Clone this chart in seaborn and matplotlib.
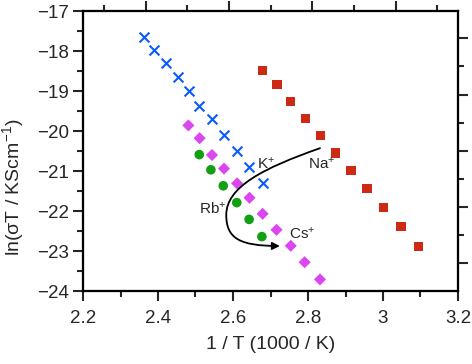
"""
Arrhenius plot: ln(sigma T) vs 1/T for alkali cations
"""

import numpy as np
import pandas as pd
import matplotlib
matplotlib.use('Agg')
import matplotlib.pyplot as plt
import seaborn as sns
from matplotlib.path import Path
from matplotlib.patches import FancyArrowPatch
from matplotlib.ticker import MultipleLocator

# ---------------------------------------------------------------------------
# data
# ---------------------------------------------------------------------------
k_x = [2.363, 2.390, 2.421, 2.453, 2.482, 2.510, 2.544, 2.576, 2.611, 2.644, 2.679]
k_y = [-17.64, -17.98, -18.29, -18.64, -18.99, -19.38, -19.71, -20.10, -20.49, -20.89, -21.29]

cs_x = [2.481, 2.511, 2.544, 2.576, 2.611, 2.644, 2.679, 2.716, 2.754, 2.791, 2.832]
cs_y = [-19.86, -20.18, -20.60, -20.94, -21.31, -21.67, -22.07, -22.47, -22.87, -23.28, -23.71]

rb_x = [2.510, 2.541, 2.574, 2.610, 2.643, 2.677]
rb_y = [-20.59, -20.97, -21.37, -21.79, -22.21, -22.64]

na_x = [2.679, 2.717, 2.754, 2.793, 2.833, 2.873, 2.915, 2.957, 3.002, 3.048, 3.095]
na_y = [-18.48, -18.84, -19.26, -19.68, -20.11, -20.55, -20.99, -21.44, -21.91, -22.38, -22.88]

x_ticks = [2.2, 2.4, 2.6, 2.8, 3.0, 3.2]
x_tick_labels = ['2.2', '2.4', '2.6', '2.8', '3', '3.2']
y_ticks = [-24, -23, -22, -21, -20, -19, -18, -17]

# ion labels: (text, x, y)
ion_labels = [('K$^{+}$', 2.664, -20.93),
              ('Na$^{+}$', 2.799, -20.93),
              ('Rb$^{+}$', 2.510, -22.06),
              ('Cs$^{+}$', 2.749, -22.68)]

# guide arrow (two cubic bezier segments)
arrow_pts = [(2.832, -20.43), (2.680, -20.93), (2.582, -21.40), (2.582, -22.10),
             (2.582, -22.70), (2.620, -22.87), (2.725, -22.875)]

# ---------------------------------------------------------------------------
# style
# ---------------------------------------------------------------------------
sns.set_style('ticks')
plt.rcParams['font.family'] = ['Liberation Sans', 'DejaVu Sans']
plt.rcParams['mathtext.fontset'] = 'custom'
plt.rcParams['mathtext.rm'] = 'Liberation Sans'
plt.rcParams['mathtext.it'] = 'Liberation Sans:italic'
plt.rcParams['axes.linewidth'] = 1.5
plt.rcParams['axes.edgecolor'] = 'black'

fig = plt.figure(figsize=(4.72, 3.64), dpi=100)
ax = fig.add_axes([83 / 472, 1 - 291 / 364, 375 / 472, 280 / 364])

df_k = pd.DataFrame({'x': k_x, 'y': k_y})
df_cs = pd.DataFrame({'x': cs_x, 'y': cs_y})
df_rb = pd.DataFrame({'x': rb_x, 'y': rb_y})
df_na = pd.DataFrame({'x': na_x, 'y': na_y})

sns.scatterplot(data=df_na, x='x', y='y', marker='s', s=45, color='#cc2a14',
                edgecolor='none', ax=ax, zorder=3)
sns.scatterplot(data=df_cs, x='x', y='y', marker='D', s=38, color='#dc46f0',
                edgecolor='none', ax=ax, zorder=3)
sns.scatterplot(data=df_rb, x='x', y='y', marker='o', s=48, color='#12a012',
                edgecolor='none', ax=ax, zorder=3)
sns.scatterplot(data=df_k, x='x', y='y', marker='x', s=50, color='#0a5aff',
                linewidth=1.5, ax=ax, zorder=3)

# curved arrow
codes = [Path.MOVETO] + [Path.CURVE4] * 6
arrow = FancyArrowPatch(path=Path(arrow_pts, codes), arrowstyle='-|>',
                        mutation_scale=11, lw=1.3, color='black', zorder=4)
ax.add_patch(arrow)

for txt, tx, ty in ion_labels:
    ax.text(tx, ty, txt, fontsize=11, ha='left', va='baseline', zorder=5)

# main axes
ax.set_xlim(2.2, 3.2)
ax.set_ylim(-24, -17)
ax.set_xticks(x_ticks)
ax.set_xticklabels(x_tick_labels)
ax.set_yticks(y_ticks)
ax.xaxis.set_minor_locator(MultipleLocator(0.1))
ax.yaxis.set_minor_locator(MultipleLocator(0.5))
ax.tick_params(which='major', direction='out', length=7, width=1.5, labelsize=13.5)
ax.tick_params(axis='x', which='major', pad=7)
ax.tick_params(axis='y', which='major', pad=3)
ax.tick_params(which='minor', direction='out', length=4, width=1.5)
ax.set_xlabel('1 / T (1000 / K)', fontsize=14)
ax.set_ylabel('ln(σT / KScm$^{-1}$)', fontsize=14)
ax.xaxis.set_label_coords(0.5, -0.16)
ax.yaxis.set_label_coords(-0.152, 0.37)

# secondary scales (labels fall outside the figure)
ax_top = ax.twiny()
ax_top.set_xlim(-0.752, 3.748)
ax_top.xaxis.set_major_locator(MultipleLocator(1))
ax_top.xaxis.set_minor_locator(MultipleLocator(0.5))
ax_top.tick_params(which='major', direction='out', length=7, width=1.5, labeltop=False)
ax_top.tick_params(which='minor', direction='out', length=4, width=1.5)

ax_right = ax.twinx()
ax_right.set_ylim(-0.492, 4.486)
ax_right.yaxis.set_major_locator(MultipleLocator(1))
ax_right.yaxis.set_minor_locator(MultipleLocator(0.5))
ax_right.tick_params(which='major', direction='out', length=7, width=1.5, labelright=False)
ax_right.tick_params(which='minor', direction='out', length=4, width=1.5)

for a in (ax, ax_top, ax_right):
    for sp in a.spines.values():
        sp.set_linewidth(1.5)
        sp.set_color('black')

plt.savefig('out.png', dpi=100)
plt.close()
